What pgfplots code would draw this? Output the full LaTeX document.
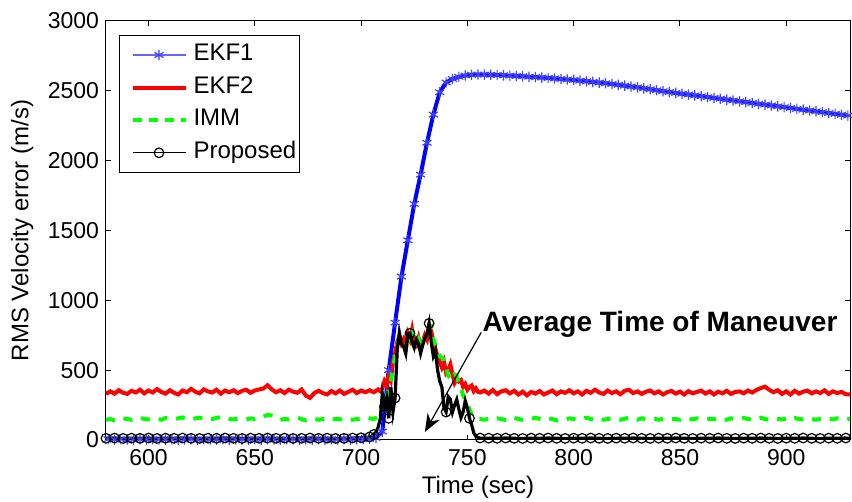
\documentclass[border=0pt]{standalone}
\usepackage{pgfplots}
\pgfplotsset{compat=1.18}
\usepackage{fontspec}
\setmainfont{Liberation Sans}
\usetikzlibrary{arrows.meta}
\definecolor{mblue}{RGB}{0,0,255}
\definecolor{mred}{RGB}{255,0,0}
\definecolor{mgreen}{RGB}{0,255,0}
\begin{document}
\begin{tikzpicture}
\begin{axis}[
  scale only axis, width=372pt, height=209.5pt,
  xmin=580, xmax=930, ymin=0, ymax=3000,
  xtick={600,650,...,900}, ytick={0,500,...,3000},
  tick align=inside, tick pos=both, major tick length=2.5pt,
  axis line style={line width=0.5pt},
  every tick/.style={black, line width=0.5pt},
  xlabel={Time (sec)}, ylabel={RMS Velocity error (m/s)},
  label style={font=\fontsize{12}{14}\selectfont},
  ylabel style={at={(axis description cs:-0.097,0.5)}, anchor=south, inner sep=0pt},
  xlabel style={at={(axis description cs:0.5,-0.112)}, anchor=center},
  tick label style={font=\fontsize{11.5}{13}\selectfont},
  xticklabel style={yshift=-1pt},
  /pgf/number format/assume math mode=true,
  /pgf/number format/1000 sep={},
  legend cell align=left,
  legend style={at={(0.0175,0.9666)}, anchor=north west, draw=black, line width=0.5pt,
    font=\fontsize{12}{14}\selectfont, row sep=4.6pt, inner xsep=1.5pt, inner ysep=3.9pt,
    nodes={text height=8.7pt, text depth=3pt, inner sep=0pt}},
]
% EKF1
\addplot[mblue, line width=2pt, mark=asterisk, mark size=2.6pt,
  mark options={draw=mblue!75, line width=0.6pt, solid},
  legend image code/.code={\path (-4pt,0pt) (29.5pt,0pt); \draw[mblue!60, line width=0.8pt] (0pt,0pt) -- (26.5pt,0pt);
    \draw plot[only marks, mark=asterisk, mark size=2.6pt, mark options={draw=mblue!75, line width=0.6pt}] coordinates {(13.25pt,0pt)};}]
table {
581 5
584 3
587 6
590 4
593 2
596 5
599 3
602 6
605 4
608 3
611 5
614 2
617 4
620 6
623 3
626 5
629 4
632 2
635 6
638 3
641 5
644 4
647 3
650 6
653 2
656 5
659 4
662 3
665 5
668 6
671 3
674 4
677 2
680 5
683 3
686 6
689 4
692 5
695 3
698 4
701 6
704 8
707 15
710 60
713 500
716 840
719 1170
722 1430
725 1690
728 1900
731 2128
734 2330
737 2490
740 2560
743 2585
746 2600
749 2610
752 2615
755 2617
758 2616
761 2615
764 2613
767 2611
770 2609
773 2606
776 2604
779 2601
782 2598
785 2595
788 2592
791 2588
794 2585
797 2581
800 2578
803 2573
806 2568
809 2564
812 2559
815 2554
818 2549
821 2543
824 2537
827 2531
830 2525
833 2518
836 2511
839 2504
842 2497
845 2491
848 2485
851 2479
854 2473
857 2467
860 2461
863 2455
866 2449
869 2443
872 2437
875 2431
878 2425
881 2419
884 2413
887 2407
890 2401
893 2395
896 2389
899 2383
902 2377
905 2371
908 2365
911 2359
914 2353
917 2347
920 2341
923 2335
926 2329
929 2323
};
\addlegendentry{EKF1}
% EKF2
\addplot[mred, line width=2pt, no marks,
  legend image code/.code={\path (-4pt,0pt) (29.5pt,0pt); \draw[mred, line width=2pt] (0pt,0pt) -- (26.5pt,0pt);}]
table {
580 330
582 348
584 332
586 356
588 338
590 330
592 352
594 340
596 360
598 334
600 354
602 340
604 364
606 344
608 332
610 356
612 338
614 326
616 354
618 342
620 366
622 346
624 334
626 362
628 348
630 340
632 360
634 332
636 354
638 342
640 356
642 336
644 352
646 360
648 338
650 354
652 362
654 368
656 392
658 362
660 342
662 356
664 336
666 360
668 346
670 338
672 362
674 318
676 302
678 336
680 352
682 336
684 326
686 350
688 334
690 354
692 330
694 344
696 360
698 336
700 354
702 342
704 356
706 342
708 362
709 350
710 370
711 420
712 390
713 470
714 430
715 560
716 620
717 700
718 740
719 690
720 720
721 660
722 760
723 720
724 790
725 700
726 680
727 730
728 660
729 700
730 750
731 720
732 810
733 780
734 700
735 650
736 600
737 560
738 520
739 560
740 480
741 500
742 540
743 470
744 410
745 440
746 420
747 430
748 380
749 400
750 360
751 380
752 390
753 350
754 370
755 345
756 340
758 354
760 332
762 358
764 328
766 348
768 356
770 334
772 352
774 326
776 346
778 320
780 344
782 332
784 350
786 326
788 340
790 354
792 328
794 348
796 338
798 356
800 334
802 348
804 326
806 352
808 338
810 360
812 340
814 330
816 354
818 336
820 348
822 328
824 352
826 360
828 336
830 348
832 330
834 346
836 354
838 334
840 348
842 326
844 342
846 352
848 332
850 346
852 326
854 350
856 334
858 344
860 354
862 332
864 348
866 326
868 346
870 334
872 352
874 330
876 344
878 348
880 334
882 354
884 340
886 358
888 372
890 382
892 360
894 342
896 356
898 330
900 348
902 326
904 352
906 332
908 346
910 354
912 334
914 348
916 336
918 356
920 330
922 348
924 336
926 344
928 328
930 326
};
\addlegendentry{EKF2}
% IMM
\addplot[mgreen, line width=2pt, no marks, dash pattern=on 4.5pt off 4.5pt,
  legend image code/.code={\path (-4pt,0pt) (29.5pt,0pt); \draw[mgreen, line width=2pt, dash pattern=on 4.5pt off 3.5pt] (0pt,0pt) -- (26.5pt,0pt);}]
table {
580 145
582 150
584 140
586 148
588 155
590 150
592 145
594 152
596 160
598 150
600 148
602 155
604 150
606 145
608 158
610 152
612 148
614 155
616 162
618 150
620 145
622 155
624 160
626 152
628 148
630 150
632 158
634 165
636 155
638 150
640 148
642 152
644 150
646 145
648 155
650 150
652 160
654 168
656 180
658 175
660 155
662 145
664 150
666 148
668 155
670 160
672 150
674 140
676 148
678 152
680 145
682 150
684 155
686 145
688 150
690 148
692 155
694 150
696 145
698 150
700 152
702 160
704 155
706 150
708 165
709 180
710 250
711 320
712 300
713 380
714 420
715 520
716 600
717 680
718 720
719 700
720 680
721 640
722 740
723 720
724 760
725 700
726 690
727 720
728 650
729 690
730 740
731 730
732 800
733 810
734 720
735 680
736 640
737 600
738 590
739 570
740 520
741 460
742 440
743 430
744 470
745 460
746 400
747 370
748 320
749 290
750 260
751 220
752 180
753 165
754 155
755 150
756 150
758 145
760 152
762 148
764 155
766 150
768 142
770 150
772 158
774 150
776 145
778 152
780 148
782 160
784 150
786 145
788 155
790 150
792 140
794 150
796 148
798 155
800 150
802 145
804 152
806 160
808 150
810 148
812 155
814 145
816 150
818 158
820 148
822 145
824 152
826 160
828 150
830 145
832 155
834 150
836 148
838 152
840 145
842 150
844 155
846 148
848 150
850 145
852 158
854 150
856 148
858 155
860 150
862 145
864 152
866 148
868 160
870 150
872 145
874 155
876 150
878 148
880 158
882 150
884 145
886 152
888 160
890 150
892 145
894 155
896 150
898 148
900 152
902 145
904 158
906 150
908 148
910 155
912 150
914 145
916 152
918 160
920 150
922 148
924 155
926 150
928 145
930 152
};
\addlegendentry{IMM}
% Proposed: line
\addplot[black, line width=1.6pt, no marks, forget plot]
table {
580 12
584 14
588 11
592 13
596 12
600 14
604 11
608 13
612 12
616 14
620 12
624 11
628 13
632 12
636 14
640 12
644 11
648 13
652 12
656 14
660 12
664 13
668 11
672 12
676 14
680 12
684 13
688 11
692 12
696 14
700 16
702 18
704 22
705 25
706 40
707 55
708 90
709 150
710 330
711 240
712 300
713 155
714 380
715 200
716 300
717 640
718 770
719 690
720 670
721 620
722 760
723 764
724 700
725 660
726 720
727 690
728 620
729 680
730 730
731 760
732 835
733 700
734 600
735 640
736 500
737 420
738 380
739 230
740 200
741 310
742 290
743 200
744 250
745 290
746 220
747 160
748 200
749 280
750 230
751 155
752 110
753 50
754 28
755 18
756 14
757 12
760 13
764 12
768 14
772 12
776 11
780 13
784 12
788 14
792 12
796 11
800 13
804 12
808 14
812 12
816 11
820 13
824 12
828 14
832 12
836 11
840 13
844 12
848 14
852 12
856 11
860 13
864 12
868 14
872 12
876 11
880 13
884 12
888 14
892 12
896 11
900 13
904 12
908 14
912 12
916 11
920 13
924 12
928 14
930 12
};
% Proposed: markers
\addplot[black, only marks, mark=o, mark size=2.4pt, mark options={line width=0.6pt},
  legend image code/.code={\path (-4pt,0pt) (29.5pt,0pt); \draw[black, line width=0.6pt] (0pt,0pt) -- (26.5pt,0pt);
    \draw plot[only marks, mark=o, mark size=2.4pt, mark options={draw=black, line width=0.6pt}] coordinates {(13.25pt,0pt)};}]
table {
580 12
584 14
588 11
592 13
596 12
600 14
604 11
608 13
612 12
616 14
620 12
624 11
628 13
632 12
636 14
640 12
644 11
648 13
652 12
656 14
660 12
664 13
668 11
672 12
676 14
680 12
684 13
688 11
692 12
696 14
700 16
704 22
706 40
711 240
713 155
716 300
723 764
732 835
740 200
751 155
756 14
760 13
764 12
768 14
772 12
776 11
780 13
784 12
788 14
792 12
796 11
800 13
804 12
808 14
812 12
816 11
820 13
824 12
828 14
832 12
836 11
840 13
844 12
848 14
852 12
856 11
860 13
864 12
868 14
872 12
876 11
880 13
884 12
888 14
892 12
896 11
900 13
904 12
908 14
912 12
916 11
920 13
924 12
928 14
};
\addlegendentry{Proposed}
\draw[-{Stealth[length=9pt,width=7pt]}, line width=0.6pt] (axis cs:756.5,770) -- (axis cs:730,57);
\node[anchor=west, inner sep=0pt, font=\bfseries\fontsize{14}{16}\selectfont] at (axis cs:757,825) {Average Time of Maneuver};
\end{axis}
\pgfresetboundingbox
\path ([xshift=-53pt,yshift=-31pt]current axis.south west) rectangle ([xshift=1pt,yshift=10.5pt]current axis.north east);
\end{tikzpicture}
\end{document}
